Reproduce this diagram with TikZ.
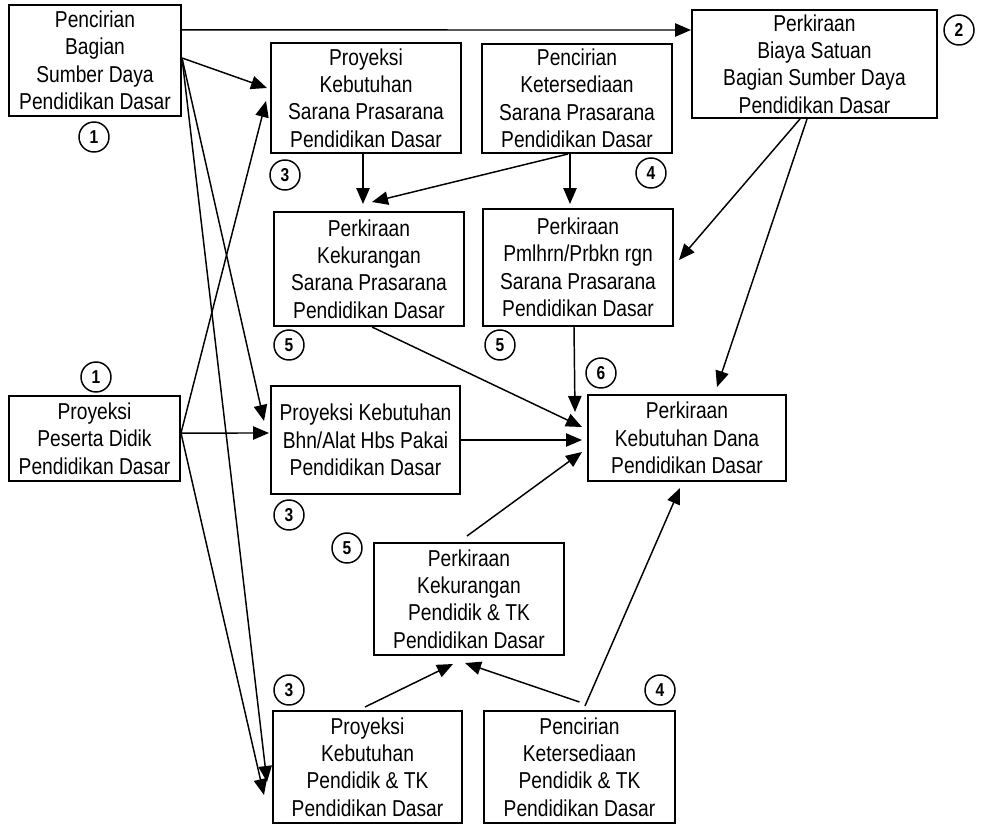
\documentclass[tikz,border=0pt]{standalone}
\usepackage{fontspec}
\setmainfont{Liberation Sans}[FakeStretch=0.835]
\usetikzlibrary{arrows.meta,positioning}
\tikzset{
	%Define standard arrow tip
	>={Triangle[length=12pt,width=10pt]},
	%Define style for boxes
	kotak/.style={
		rectangle,
		draw=black, line width=1.5pt,
		inner sep=0pt,
		align=center,
		font=\fontsize{17.25}{20.6}\selectfont},
	%Define style for step numbers
	nomor/.style={
		circle,
		draw=black, line width=1.1pt,
		minimum size=22.5pt,
		inner sep=0pt,
		font=\bfseries\fontsize{14}{15}\selectfont},
	% Define arrow style
	pil/.style={
		->,
		line width=1.1pt}
}

\begin{document}
\begin{tikzpicture}[x=0.75pt,y=-0.75pt]
	\useasboundingbox (0,0) rectangle (981,824);
	
	% boxes
	\node[kotak, minimum width=129pt, minimum height=83.25pt] (ciriSD) at (95,60.5) {Pencirian\\Bagian\\Sumber Daya\\Pendidikan Dasar};
	\node[kotak, minimum width=142.5pt, minimum height=82.5pt] (proySP) at (366,98) {Proyeksi\\Kebutuhan\\Sarana Prasarana\\Pendidikan Dasar};
	\node[kotak, minimum width=142.5pt, minimum height=81.75pt] (ciriSP) at (577,98.5) {Pencirian\\Ketersediaan\\Sarana Prasarana\\Pendidikan Dasar};
	\node[kotak, minimum width=183.75pt, minimum height=81pt] (biaya) at (814.5,64) {Perkiraan\\Biaya Satuan\\Bagian Sumber Daya\\Pendidikan Dasar};
	\node[kotak, minimum width=142.5pt, minimum height=85.5pt] (kurangSP) at (369,269) {Perkiraan\\Kekurangan\\Sarana Prasarana\\Pendidikan Dasar};
	\node[kotak, minimum width=142.5pt, minimum height=87.75pt] (rehabSP) at (578,267.5) {Perkiraan\\Pmlhrn/Prbkn rgn\\Sarana Prasarana\\Pendidikan Dasar};
	\node[kotak, minimum width=148.5pt, minimum height=64.5pt] (dana) at (687,438) {Perkiraan\\Kebutuhan Dana\\Pendidikan Dasar};
	\node[kotak, minimum width=141.75pt, minimum height=81pt] (proyBHP) at (365.5,440) {Proyeksi Kebutuhan\\Bhn/Alat Hbs Pakai\\Pendidikan Dasar};
	\node[kotak, minimum width=128.25pt, minimum height=63.75pt] (siswa) at (94.5,438.5) {Proyeksi\\Peserta Didik\\Pendidikan Dasar};
	\node[kotak, minimum width=142.5pt, minimum height=84pt] (kurangPTK) at (469,599) {Perkiraan\\Kekurangan\\Pendidik \& TK\\Pendidikan Dasar};
	\node[kotak, minimum width=141.75pt, minimum height=84pt] (proyPTK) at (367.5,767) {Proyeksi\\Kebutuhan\\Pendidik \& TK\\Pendidikan Dasar};
	\node[kotak, minimum width=143.25pt, minimum height=84pt] (ciriPTK) at (579.5,767) {Pencirian\\Ketersediaan\\Pendidik \& TK\\Pendidikan Dasar};
	
	% step numbers
	\node[nomor] (n1a) at (94,137) {1};
	\node[nomor] (n2) at (959,30) {2};
	\node[nomor] (n3a) at (285,175) {3};
	\node[nomor] (n4a) at (651,173) {4};
	\node[nomor] (n5a) at (289,345) {5};
	\node[nomor] (n5b) at (500,345) {5};
	\node[nomor] (n6) at (601,373) {6};
	\node[nomor] (n1b) at (96,377) {1};
	\node[nomor] (n3b) at (289,515) {3};
	\node[nomor] (n5c) at (347,548) {5};
	\node[nomor] (n3c) at (289,690) {3};
	\node[nomor] (n4b) at (660,690) {4};
	
	% fan-out points
	\coordinate (fanA) at ([yshift=1.9pt]ciriSD.east);
	\coordinate (fanI) at ([yshift=4.1pt]siswa.east);
	
	\draw[pil] ([yshift=22.9pt]ciriSD.east) -- ([yshift=25.5pt]biaya.west);
	\draw[pil] (fanA) -- ([xshift=-2.25pt,yshift=7.5pt]proySP.west);
	\draw[pil] (fanA) -- ([xshift=-4.5pt,yshift=14.25pt]proyBHP.west);
	\draw[pil] (fanA) -- ([xshift=-3.75pt,yshift=-11.25pt]proyPTK.west);
	\draw[pil] (fanI) -- ([xshift=-3pt,yshift=-2.25pt]proySP.west);
	\draw[pil] (fanI) -- ([xshift=-0.75pt,yshift=5.25pt]proyBHP.west);
	\draw[pil] (fanI) -- ([xshift=-6pt,yshift=-21pt]proyPTK.west);
	
	\draw[pil] ([xshift=-2.25pt]proySP.south) -- ([xshift=-4.5pt,yshift=5.25pt]kurangSP.north);
	\draw[pil] ([xshift=-6.75pt]ciriSP.south) -- ([xshift=2.25pt,yshift=6.75pt]kurangSP.north);
	\draw[pil] ([xshift=-5.25pt]ciriSP.south) -- ([xshift=-6pt,yshift=3pt]rehabSP.north);
	\draw[pil] ([xshift=-10.9pt]biaya.south) -- ([xshift=3.75pt,yshift=5.6pt]rehabSP.east);
	\draw[pil] ([xshift=-5.6pt]biaya.south) -- ([xshift=22.5pt,yshift=5.25pt]dana.north);
	
	\draw[pil] ([xshift=2.25pt]kurangSP.south) -- ([xshift=-3.75pt,yshift=8.25pt]dana.west);
	\draw[pil] ([xshift=-3pt]rehabSP.south) -- ([xshift=-9pt,yshift=19.5pt]dana.west);
	\draw[pil] (proyBHP.east) -- ([xshift=-3.75pt,yshift=-1.5pt]dana.west);
	\draw[pil] ([xshift=-1.5pt,yshift=4.5pt]kurangPTK.north) -- ([xshift=-3.75pt,yshift=-10.5pt]dana.west);
	\draw[pil] ([xshift=4.1pt,yshift=3pt]ciriPTK.north) -- ([xshift=-5.25pt,yshift=-4.5pt]dana.south);
	
	\draw[pil] ([xshift=-1.9pt,yshift=2.25pt]proyPTK.north) -- ([xshift=-12pt,yshift=-6pt]kurangPTK.south);
	\draw[pil] ([yshift=6pt]ciriPTK.north) -- ([xshift=-3pt,yshift=-5.25pt]kurangPTK.south);
	
\end{tikzpicture}
\end{document}
